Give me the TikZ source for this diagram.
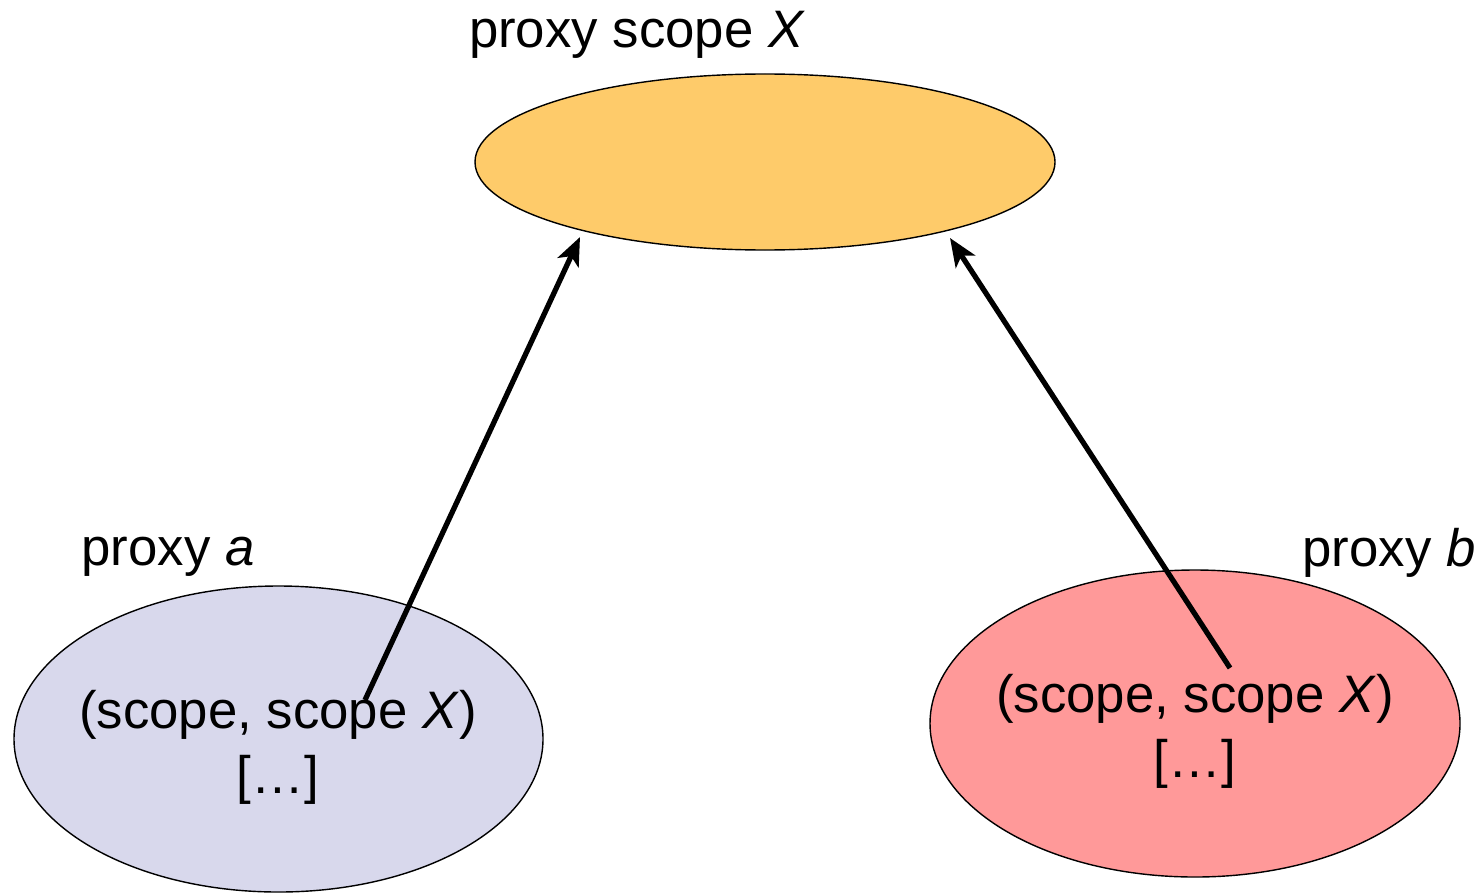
\documentclass[tikz,border=0pt]{standalone}
\usepackage{fontspec}
\setmainfont{Liberation Sans}
\usetikzlibrary{arrows.meta}
\definecolor{topfill}{HTML}{FECB6A}
\definecolor{leftfill}{HTML}{D8D8EC}
\definecolor{rightfill}{HTML}{FF9999}
\begin{document}
\begin{tikzpicture}[x=0.01cm,y=-0.01cm,
  blob/.style={draw=black,line width=0.4pt},
  lbl/.style={font=\fontsize{15pt}{18.5pt}\selectfont,inner sep=0pt},
  conn/.style={line width=1.5pt,-{Stealth[length=8pt,width=6.5pt,inset=2pt]}}]
\useasboundingbox (0,0) rectangle (1483,894);
\fill[topfill,blob] (765,162) ellipse [x radius=290,y radius=88];
\fill[leftfill,blob] (278.5,739) ellipse [x radius=264.5,y radius=153];
\fill[rightfill,blob] (1195,723.5) ellipse [x radius=265,y radius=153.5];
\node[lbl] (tx) at (637,35) {proxy scope \textit{X}};
\node[lbl] (ta) at (168,557) {proxy \textit{a}};
\node[lbl] (tb) at (1389,553) {proxy \textit{b}};
\node[lbl,align=center] (la) at (278,747) {(scope, scope \textit{X})\\{[…]}};
\node[lbl,align=center] (rb) at (1195,731) {(scope, scope \textit{X})\\{[…]}};
\coordinate (a0) at (365,700);
\coordinate (a1) at (580,237);
\coordinate (b0) at (1230,668);
\coordinate (b1) at (950,238);
\draw[conn] (a0) -- (a1);
\draw[conn] (b0) -- (b1);
\end{tikzpicture}
\end{document}
